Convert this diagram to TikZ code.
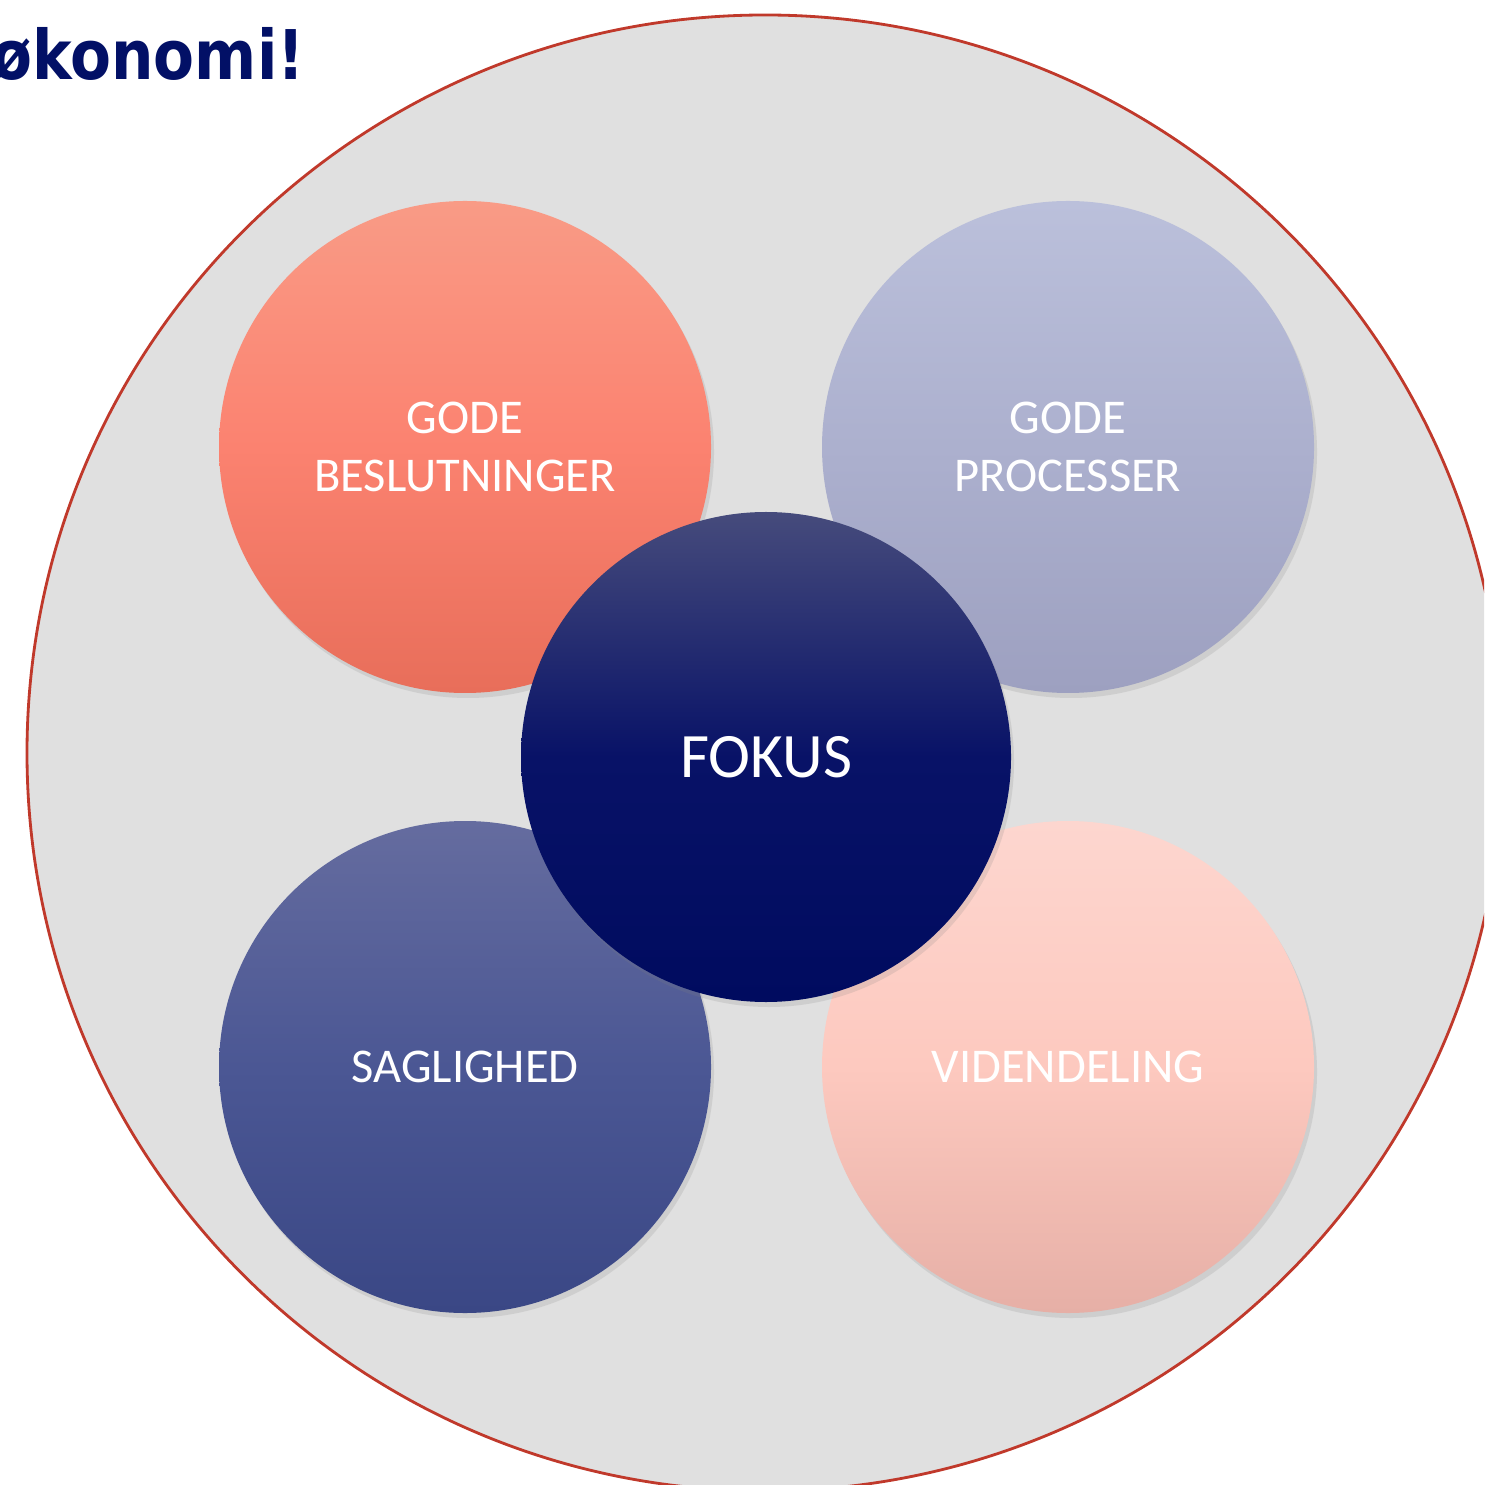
\documentclass[tikz,border=0pt]{standalone}
\usepackage{fontspec}
\setmainfont{Carlito}
\newfontfamily\titlefont{DejaVu Sans}
\usetikzlibrary{positioning,shadows}

\definecolor{rammerod}{RGB}{192,57,43}
\definecolor{baggrund}{RGB}{224,224,224}
\definecolor{titelblaa}{RGB}{2,16,102}

\begin{document}
\begin{tikzpicture}[
    bobbel/.style={circle, minimum size=4.92cm, inner sep=0pt, align=center,
      text=white, font=\fontsize{13.8}{16.5}\selectfont,
      drop shadow={shadow xshift=0.3mm, shadow yshift=-0.5mm, opacity=0.18}},
  ]
  \useasboundingbox (0,0) rectangle (14.84,-14.85);
  \clip (0,0) rectangle (14.84,-14.85);

  \node[circle, draw=rammerod, line width=0.8pt, fill=baggrund,
    minimum size=14.76cm, inner sep=0pt] (ramme) at (7.65,-7.53) {};

  \node (titel) [anchor=base east, text=titelblaa] at (3.17,-0.80)
    {\scalebox{0.87}[1]{\titlefont\bfseries\fontsize{19.5}{22}\selectfont økonomi!}};

  \coordinate (midte) at (7.66,-7.57);

  \node [bobbel, above left=3.1cm and 3.01cm of midte, anchor=center,
    top color={rgb,255:red,249;green,155;blue,134},
    bottom color={rgb,255:red,232;green,110;blue,90},
    middle color={rgb,255:red,251;green,130;blue,112}] (beslut) {GODE\\BESLUTNINGER};
  \node [bobbel, above right=3.1cm and 3.02cm of midte, anchor=center,
    top color={rgb,255:red,187;green,192;blue,219},
    bottom color={rgb,255:red,157;green,160;blue,192},
    middle color={rgb,255:red,172;green,176;blue,206}] (proces) {GODE\\PROCESSER};
  \node [bobbel, below left=3.1cm and 3.01cm of midte, anchor=center,
    top color={rgb,255:red,101;green,108;blue,159},
    bottom color={rgb,255:red,58;green,71;blue,133},
    middle color={rgb,255:red,75;green,87;blue,148}] (saglig) {SAGLIGHED};
  \node [bobbel, below right=3.1cm and 3.02cm of midte, anchor=center,
    top color={rgb,255:red,253;green,214;blue,207},
    bottom color={rgb,255:red,230;green,175;blue,166},
    middle color={rgb,255:red,253;green,201;blue,191}] (viden) {VIDENDELING};

  \node [bobbel, minimum size=4.9cm, font=\fontsize{18}{21}\selectfont,
    top color={rgb,255:red,70;green,75;blue,124},
    bottom color={rgb,255:red,0;green,11;blue,95},
    middle color={rgb,255:red,8;green,18;blue,103}] (fokus) at (midte) {FOKUS};
\end{tikzpicture}
\end{document}
